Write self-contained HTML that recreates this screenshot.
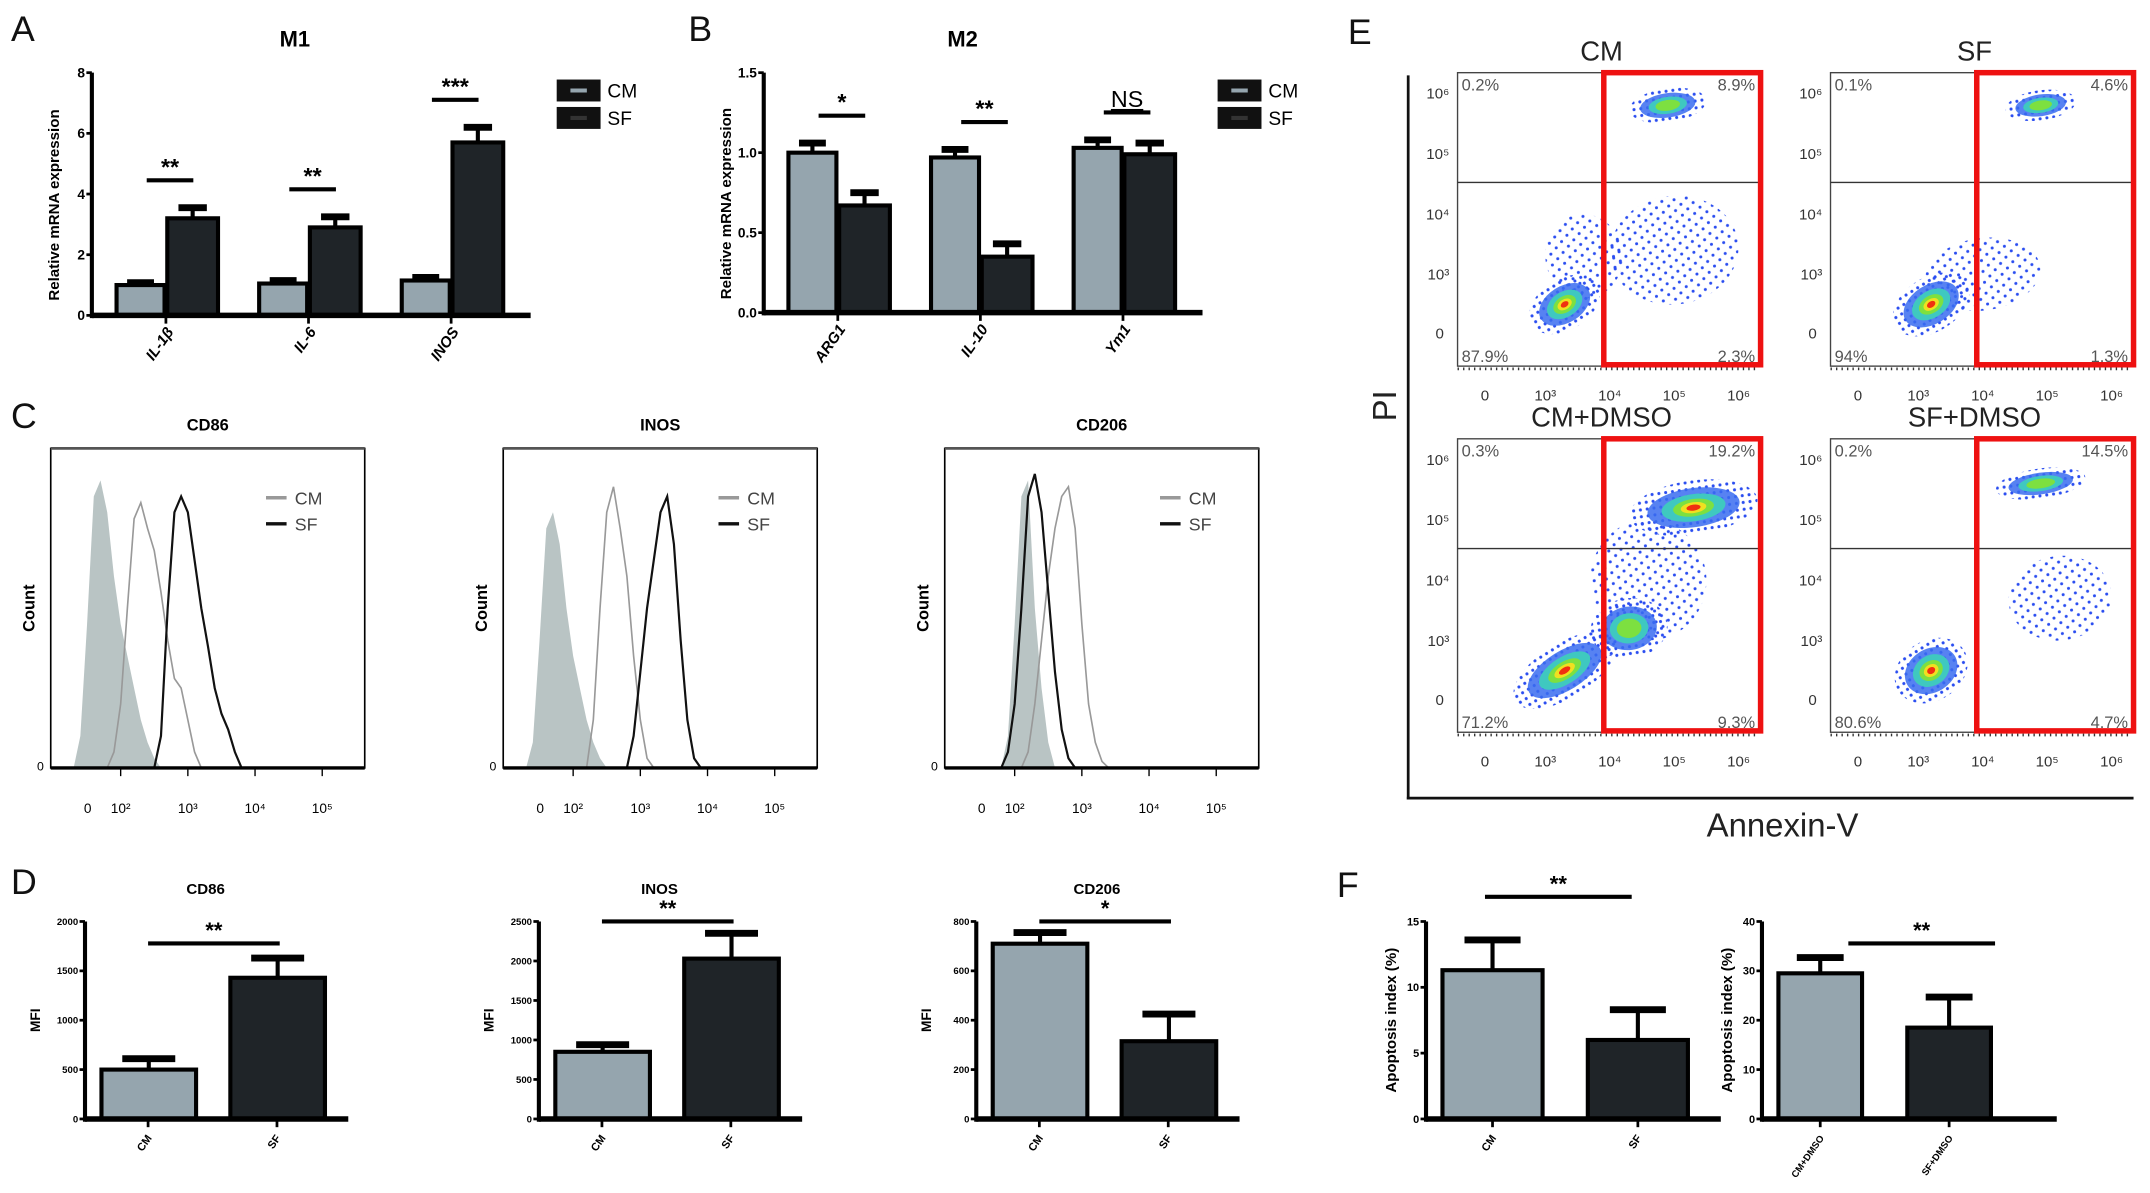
<!DOCTYPE html>
<html><head><meta charset="utf-8"><style>
html,body{margin:0;padding:0;background:#fff;}
svg{display:block;font-family:"Liberation Sans",sans-serif;}
</style></head><body>
<svg id="fig" width="2150" height="1193" viewBox="0 0 1568 870" preserveAspectRatio="none" xmlns="http://www.w3.org/2000/svg">
<defs>
<pattern id="dots" width="5" height="5" patternUnits="userSpaceOnUse"><circle cx="1.5" cy="1.5" r="1.1" fill="#2a4df0"/></pattern>
<pattern id="dotsSparse" width="9" height="8" patternUnits="userSpaceOnUse"><circle cx="2" cy="2" r="1.1" fill="#2a4df0"/><circle cx="6.5" cy="6" r="1.1" fill="#2a4df0"/></pattern>
</defs>
<g font-size="26" fill="#111">
<text x="8" y="30">A</text>
<text x="502" y="30">B</text>
<text x="8" y="312">C</text>
<text x="8" y="652">D</text>
<text x="983" y="32">E</text>
<text x="975" y="654">F</text>
</g>
</svg>
<script>
// ---------- Panel A/B data ----------
const aCats = ["IL-1β","IL-6","INOS"];
const aCM = [1.0, 1.05, 1.15];
const aCMerr = [0.08, 0.1, 0.1];
const aSF = [3.2, 2.9, 5.7];
const aSFerr = [0.35, 0.35, 0.5];
const aTicks = [0,2,4,6,8];
const aSig = ["**","**","***"];
const bCats = ["ARG1","IL-10","Ym1"];
const bCM = [1.0, 0.97, 1.03];
const bCMerr = [0.06, 0.05, 0.05];
const bSF = [0.67, 0.35, 0.99];
const bSFerr = [0.08, 0.08, 0.07];
const bTicks = [0,0.5,1.0,1.5];
const bTickLabels = ["0.0","0.5","1.0","1.5"];
const bSig = ["*","**","NS"];
// ---------- Panel C data (histograms on log10 bins) ----------
const binLogs = [1.3,1.4,1.5,1.6,1.7,1.8,1.9,2.0,2.1,2.2,2.3,2.4,2.5,2.6,2.7,2.8,2.9,3.0,3.1,3.2,3.3,3.4,3.5,3.6,3.7,3.8,3.9,4.0];
const cd86Iso = [0,10,45,85,90,80,60,45,35,25,15,8,3,0,0,0,0,0,0,0,0,0,0,0,0,0,0,0];
const cd86CM  = [0,0,0,0,0,0,5,20,50,78,83,75,68,55,40,28,25,15,5,0,0,0,0,0,0,0,0,0];
const cd86SF  = [0,0,0,0,0,0,0,0,0,0,0,0,0,10,50,80,85,80,65,50,38,25,17,12,5,0,0,0];
const inosIso = [0,8,40,75,80,70,50,35,25,15,8,3,0,0,0,0,0,0,0,0,0,0,0,0,0,0,0,0];
const inosCM  = [0,0,0,0,0,0,0,0,0,0,15,50,80,88,75,60,35,15,3,0,0,0,0,0,0,0,0,0];
const inosSF  = [0,0,0,0,0,0,0,0,0,0,0,0,0,0,0,0,10,30,50,65,80,85,70,40,15,3,0,0];
const cd206Iso = [0,0,0,0,0,0,10,45,85,90,50,25,8,0,0,0,0,0,0,0,0,0,0,0,0,0,0,0];
const cd206SF  = [0,0,0,0,0,0,5,20,50,85,92,80,55,30,12,3,0,0,0,0,0,0,0,0,0,0,0,0];
const cd206CM  = [0,0,0,0,0,0,0,0,0,5,20,40,60,75,85,88,75,45,20,8,2,0,0,0,0,0,0,0];
const histTitles = ["CD86","INOS","CD206"];
const histXTicks = ["0","10²","10³","10⁴","10⁵"];
// ---------- Panel D data ----------
const dTitles = ["CD86","INOS","CD206"];
const dCM = [500, 850, 710];
const dCMerr = [110, 90, 45];
const dSF = [1430, 2030, 315];
const dSFerr = [200, 320, 110];
const dMax = [2000, 2500, 800];
const dTickStep = [500, 500, 200];
const dSig = ["**","**","*"];
// ---------- Panel E data (log-decade cluster descriptions) ----------
const eTitles = ["CM","SF","CM+DMSO","SF+DMSO"];
const eQuadUL = ["0.2%","0.1%","0.3%","0.2%"];
const eQuadUR = ["8.9%","4.6%","19.2%","14.5%"];
const eQuadLL = ["87.9%","94%","71.2%","80.6%"];
const eQuadLR = ["2.3%","1.3%","9.3%","4.7%"];
const eClX = [[5.0,3.6,3.3,4.9],[4.0,3.2,4.9],[4.6,3.3,4.3,5.3],[5.2,3.2,4.9]];
const eClY = [[3.4,3.3,2.5,5.8],[3.0,2.5,5.8],[4.0,2.5,3.2,5.2],[3.7,2.5,5.6]];
const eClSX = [[1.0,0.6,0.6,0.6],[0.9,0.65,0.55],[0.9,0.9,0.6,1.0],[0.8,0.6,0.7]];
const eClSY = [[0.9,0.7,0.42,0.28],[0.6,0.45,0.25],[1.0,0.45,0.5,0.45],[0.7,0.5,0.25]];
const eClW = [[0.1,0.1,1,0.6],[0.15,1,0.5],[0.2,1,0.6,0.8],[0.15,1,0.6]];
// ---------- Panel F data ----------
const fCats1 = ["CM","SF"];
const fVals1 = [11.3, 6.0];
const fErr1 = [2.3, 2.3];
const fCats2 = ["CM+DMSO","SF+DMSO"];
const fVals2 = [29.5, 18.5];
const fErr2 = [3.2, 6.2];

const svg = document.getElementById('fig');
const NS = "http://www.w3.org/2000/svg";
function mk(tag, attrs, parent){
  const e = document.createElementNS(NS, tag);
  for (const k in attrs) e.setAttribute(k, attrs[k]);
  (parent||svg).appendChild(e);
  return e;
}
function txt(x,y,s,attrs,parent){
  const t = mk('text', Object.assign({x:x,y:y}, attrs||{}), parent);
  t.textContent = s;
  return t;
}
const CMC = "#95a5ae", SFC = "#1f2428";

function drawBar(g, x, w, v, err, ys, y0, fill, name){
  const r = mk('rect',{x:x,y:ys(v),width:w,height:y0-ys(v),fill:fill,stroke:"#000","stroke-width":3},g);
  
  
  const ln = mk('line',{x1:x+w/2,x2:x+w/2,y1:ys(v),y2:ys(v+err),stroke:"#000","stroke-width":3},g);
  
  
  mk('line',{x1:x+w/2-w*0.28,x2:x+w/2+w*0.28,y1:ys(v+err),y2:ys(v+err),stroke:"#000","stroke-width":5},g);
}
function axisY(g, ax, y0, yTop, ticks, labels, max, fs){
  const ys = v => y0 - v/max*(y0-yTop);
  mk('line',{x1:ax,x2:ax,y1:y0+2,y2:yTop,stroke:"#000","stroke-width":3},g);
  ticks.forEach((t,i)=>{
    mk('line',{x1:ax-4,x2:ax,y1:ys(t),y2:ys(t),stroke:"#000","stroke-width":2},g);
    txt(ax-5,ys(t)+fs*0.35,labels[i],{"font-size":fs,"font-weight":"bold","text-anchor":"end"},g);
  });
  return ys;
}
function sig(g,x1,x2,y,label,fs){
  mk('line',{x1:x1,x2:x2,y1:y,y2:y,stroke:"#000","stroke-width":3},g);
  const t = txt((x1+x2)/2,y-4,label,{"font-size":fs,"text-anchor":"middle","font-weight":label==="NS"?"normal":"bold"},g);
  if(label==="NS") t.setAttribute('text-decoration','underline');
}

// ---------- Panels A and B ----------
function groupedPanel(name, ax, y0, yTop, max, ticks, tickLabels, cats, cm, cmE, sf, sfE, sigs, title, titleX, legX, ylab){
  const g = mk('g',{});
  
  
  txt(titleX,34,title,{"font-size":16,"font-weight":"bold","text-anchor":"middle"},g);
  const ys = axisY(g, ax, y0, yTop, ticks, tickLabels, max, 10);
  const yl = txt(0,0,ylab,{"font-size":11,"font-weight":"bold","text-anchor":"middle",transform:`translate(${ax-24},${(y0+yTop)/2+8}) rotate(-90)`},g);
  
  
  cats.forEach((c,i)=>{
    const gx = ax + 18 + i*104;
    drawBar(g, gx, 35, cm[i], cmE[i], ys, y0, CMC, 'bar-cm-'+c);
    drawBar(g, gx+37, 37, sf[i], sfE[i], ys, y0, SFC, 'bar-sf-'+c);
    const top = Math.max(cm[i]+cmE[i], sf[i]+sfE[i]);
    sig(g, gx+22, gx+56, ys(top)-20, sigs[i], 17);
    mk('line',{x1:gx+36,x2:gx+36,y1:y0,y2:y0+6,stroke:"#000","stroke-width":2},g);
    const lbl = txt(0,0,c,{"font-size":11,"font-weight":"bold","font-style":"italic","text-anchor":"end",transform:`translate(${gx+42},${y0+12}) rotate(-55)`},g);
    
    
  });
  mk('line',{x1:ax,x2:ax+320,y1:y0,y2:y0,stroke:"#000","stroke-width":4},g);
  const lg = mk('g',{},g);
  
  
  mk('rect',{x:legX,y:58,width:32,height:16,fill:"#111"},lg);
  mk('line',{x1:legX+10,x2:legX+22,y1:66,y2:66,stroke:CMC,"stroke-width":3},lg);
  mk('rect',{x:legX,y:78,width:32,height:16,fill:"#111"},lg);
  mk('line',{x1:legX+10,x2:legX+22,y1:86,y2:86,stroke:"#333","stroke-width":3},lg);
  txt(legX+37,71,"CM",{"font-size":14},lg);
  txt(legX+37,91,"SF",{"font-size":14},lg);
}
groupedPanel('panel-a-m1',67,230,53,8,aTicks,aTicks.map(String),aCats,aCM,aCMerr,aSF,aSFerr,aSig,"M1",215,406,"Relative mRNA expression");
groupedPanel('panel-b-m2',557,228,53,1.5,bTicks,bTickLabels,bCats,bCM,bCMerr,bSF,bSFerr,bSig,"M2",702,888,"Relative mRNA expression");

// ---------- Panel C histograms ----------
const histBoxes = [37, 367, 689];
const histSets = [[cd86Iso,cd86CM,cd86SF],[inosIso,inosCM,inosSF],[cd206Iso,cd206CM,cd206SF]];
histBoxes.forEach((bx,k)=>{
  const g = mk('g',{});
  
  
  const top=327, bot=560, w=229;
  txt(bx+w/2,314,histTitles[k],{"font-size":12,"font-weight":"bold","text-anchor":"middle"},g);
  const xs = l => bx + 51 + (l-2)*49;
  const ys = c => bot - c/100*(bot-top);
  const path = arr => binLogs.map((l,i)=>(i?'L':'M')+xs(l).toFixed(1)+','+ys(arr[i]).toFixed(1)).join(' ');
  const [iso,cm,sf] = histSets[k];
  const f = mk('path',{d:path(iso)+` L${xs(binLogs[binLogs.length-1])},${bot} L${xs(binLogs[0])},${bot} Z`,fill:"#b9c4c4",stroke:"none"},g);
  
  
  const c1 = mk('path',{d:path(cm),fill:"none",stroke:"#999","stroke-width":1.2},g);
  
  
  const c2 = mk('path',{d:path(sf),fill:"none",stroke:"#111","stroke-width":1.6},g);
  
  
  mk('rect',{x:bx,y:top,width:w,height:bot-top,fill:"none",stroke:"#000","stroke-width":1.2},g);
  mk('line',{x1:bx,x2:bx+w,y1:top,y2:top,stroke:"#555","stroke-width":2},g);
  mk('line',{x1:bx,x2:bx+w,y1:bot,y2:bot,stroke:"#000","stroke-width":2.5},g);
  txt(bx-5,bot+2,"0",{"font-size":9,"text-anchor":"end"},g);
  const yl = txt(0,0,"Count",{"font-size":12,"font-weight":"bold","text-anchor":"middle",transform:`translate(${bx-12},${(top+bot)/2}) rotate(-90)`},g);
  
  
  histXTicks.forEach((t,i)=>{
    const x = i===0 ? bx+27 : xs(i+1);
    txt(x,593,t,{"font-size":10,"text-anchor":"middle"},g);
    if(i>0) mk('line',{x1:x,x2:x,y1:bot,y2:bot+6,stroke:"#000","stroke-width":1},g);
  });
  mk('line',{x1:bx+157,x2:bx+172,y1:363,y2:363,stroke:"#999","stroke-width":2.5},g);
  mk('line',{x1:bx+157,x2:bx+172,y1:382,y2:382,stroke:"#111","stroke-width":2.5},g);
  txt(bx+178,368,"CM",{"font-size":13,fill:"#444"},g);
  txt(bx+178,387,"SF",{"font-size":13,fill:"#444"},g);
});

// ---------- Panel D ----------
const dAxes = [62, 393, 712];
const dSigY = [688, 672, 672];
dAxes.forEach((ax,k)=>{
  const g = mk('g',{});
  
  
  const y0=816, yTop=672;
  const ticks=[]; for(let t=0;t<=dMax[k];t+=dTickStep[k]) ticks.push(t);
  const ys = axisY(g, ax, y0, yTop, ticks, ticks.map(String), dMax[k], 7);
  txt(ax+88,652,dTitles[k],{"font-size":11,"font-weight":"bold","text-anchor":"middle"},g);
  txt(0,0,"MFI",{"font-size":10,"font-weight":"bold","text-anchor":"middle",transform:`translate(${ax-33},${744}) rotate(-90)`},g);
  drawBar(g, ax+12, 69, dCM[k], dCMerr[k], ys, y0, CMC, 'bar-cm');
  drawBar(g, ax+106, 69, dSF[k], dSFerr[k], ys, y0, SFC, 'bar-sf');
  sig(g, ax+46, ax+142, dSigY[k], dSig[k], 16);
  mk('line',{x1:ax,x2:ax+192,y1:y0,y2:y0,stroke:"#000","stroke-width":4},g);
  ["CM","SF"].forEach((c,i)=>{
    const cx = ax+46+i*94;
    mk('line',{x1:cx,x2:cx,y1:y0,y2:y0+6,stroke:"#000","stroke-width":2},g);
    txt(0,0,c,{"font-size":8,"font-weight":"bold","text-anchor":"end",transform:`translate(${cx+3},${y0+14}) rotate(-55)`},g);
  });
});

// ---------- Panel E flow cytometry ----------
const eCols = [1063, 1335], eRows = [53, 320];
const eW = 220, eH = 214;
eTitles.forEach((title,k)=>{
  const px = eCols[k%2], py = eRows[Math.floor(k/2)];
  const g = mk('g',{});
  
  
  const xs = l => px + 64 + (l-3)*47;
  const ys = l => py + 15 + (6-l)*44;
  txt(px+105, py-9, title, {"font-size":20,"text-anchor":"middle",fill:"#222"}, g);
  const clip = mk('clipPath',{id:'clip'+k},g);
  mk('rect',{x:px,y:py,width:eW,height:eH},clip);
  const cg = mk('g',{"clip-path":`url(#clip${k})`},g);
  eClX[k].forEach((cx,i)=>{
    const X = xs(cx), Y = ys(eClY[k][i]);
    const rx = eClSX[k][i]*47, ry = eClSY[k][i]*44;
    const w = eClW[k][i];
    const rot = eClY[k][i] < 3 ? -32 : -8;
    const tr = `rotate(${rot} ${X} ${Y})`;
    const outer = mk('ellipse',{cx:X,cy:Y,rx:rx,ry:ry,fill:w<0.3?"url(#dotsSparse)":"url(#dots)",transform:tr},cg);
    
    
    if(w>=0.3){
      mk('ellipse',{cx:X,cy:Y,rx:rx*0.72,ry:ry*0.72,fill:"#3a6cf0",opacity:0.85,transform:tr},cg);
      mk('ellipse',{cx:X,cy:Y,rx:rx*0.5,ry:ry*0.5,fill:"#3fc8c0",transform:tr},cg);
      mk('ellipse',{cx:X,cy:Y,rx:rx*0.32,ry:ry*0.32,fill:"#7de040",transform:tr},cg);
    }
    if(w>=0.75){
      mk('ellipse',{cx:X,cy:Y,rx:rx*0.2,ry:ry*0.2,fill:"#f0e020",transform:tr},cg);
      mk('ellipse',{cx:X,cy:Y,rx:rx*0.11,ry:ry*0.11,fill:"#f03010",transform:tr},cg);
    }
  });
  mk('rect',{x:px,y:py,width:eW,height:eH,fill:"none",stroke:"#444","stroke-width":1},g);
  mk('line',{x1:px,x2:px+eW,y1:py+80,y2:py+80,stroke:"#333","stroke-width":1},g);
  const red = mk('rect',{x:xs(3.95)-2,y:py,width:px+eW-xs(3.95)+3,height:eH-1,fill:"none",stroke:"#ee1111","stroke-width":4},g);
  
  
  txt(px+3,py+13,eQuadUL[k],{"font-size":12,fill:"#555"},g);
  txt(px+eW-3,py+13,eQuadUR[k],{"font-size":12,fill:"#555","text-anchor":"end"},g);
  txt(px+3,py+eH-3,eQuadLL[k],{"font-size":12,fill:"#555"},g);
  txt(px+eW-3,py+eH-3,eQuadLR[k],{"font-size":12,fill:"#555","text-anchor":"end"},g);
  ["0","10³","10⁴","10⁵","10⁶"].forEach((t,i)=>{
    const x = i===0 ? px+20 : xs(i+2);
    txt(x, py+eH+25, t, {"font-size":11,"text-anchor":"middle",fill:"#333"}, g);
  });
  [["10⁶",6],["10⁵",5],["10⁴",4],["10³",3]].forEach(([t,l])=>{
    txt(px-6, ys(l)+4, t, {"font-size":11,"text-anchor":"end",fill:"#333"}, g);
  });
  txt(px-10, py+eH-20, "0", {"font-size":11,"text-anchor":"end",fill:"#333"}, g);
  mk('line',{x1:px,x2:px+eW,y1:py+eH+2,y2:py+eH+2,stroke:"#333","stroke-width":2,"stroke-dasharray":"1 3"},g);
});
mk('line',{x1:1027,x2:1027,y1:55,y2:583,stroke:"#111","stroke-width":2});
mk('line',{x1:1026,x2:1556,y1:582,y2:582,stroke:"#111","stroke-width":2});
const pi = txt(0,0,"PI",{"font-size":24,"text-anchor":"middle",fill:"#222",transform:"translate(1018,296) rotate(-90)"});


const ann = txt(1300,610,"Annexin-V",{"font-size":24,"text-anchor":"middle",fill:"#222"});



// ---------- Panel F ----------
function fChart(name, ax, max, step, cats, vals, errs, bw, sigY, sigX1, sigX2, lblFs){
  const g = mk('g',{});
  
  
  const y0=816, yTop=672;
  const ticks=[]; for(let t=0;t<=max;t+=step) ticks.push(t);
  const ys = axisY(g, ax, y0, yTop, ticks, ticks.map(String), max, 8);
  txt(0,0,"Apoptosis index (%)",{"font-size":11,"font-weight":"bold","text-anchor":"middle",transform:`translate(${ax-22},${744}) rotate(-90)`},g);
  cats.forEach((c,i)=>{
    const x = ax + 12 + i*(bw+33);
    drawBar(g, x, bw, vals[i], errs[i], ys, y0, i===0?CMC:SFC, 'bar-'+c.toLowerCase().replace('+','-'));
    const cx = x+bw/2;
    mk('line',{x1:cx,x2:cx,y1:y0,y2:y0+6,stroke:"#000","stroke-width":2},g);
    txt(0,0,c,{"font-size":lblFs,"font-weight":"bold","text-anchor":"end",transform:`translate(${cx+3},${y0+14}) rotate(-55)`},g);
  });
  mk('line',{x1:ax,x2:ax+215,y1:y0,y2:y0,stroke:"#000","stroke-width":4},g);
  sig(g, sigX1, sigX2, sigY, "**", 16);
}
fChart('apoptosis-chart-1',1040,15,5,fCats1,fVals1,fErr1,73,654,1083,1190,8);
fChart('apoptosis-chart-2',1285,40,10,fCats2,fVals2,fErr2,61,688,1348,1455,7);
</script>
</body></html>
